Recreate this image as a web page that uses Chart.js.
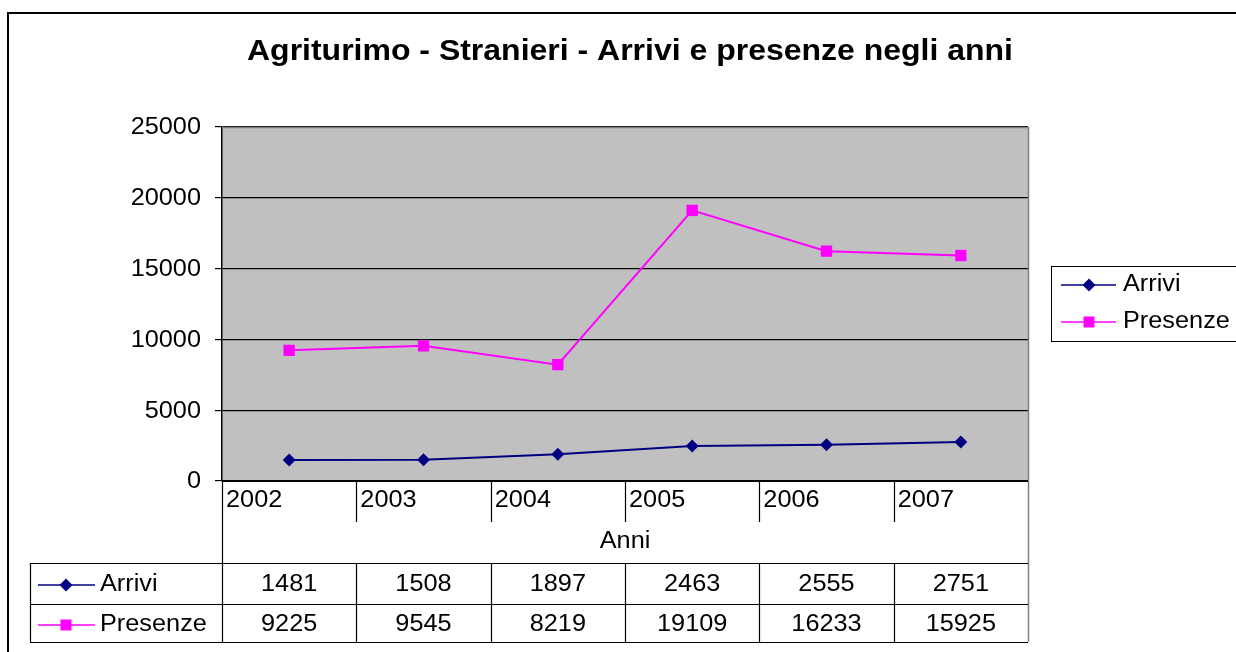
<!DOCTYPE html>
<html>
<head>
<meta charset="utf-8">
<script src="https://cdn.jsdelivr.net/npm/chart.js@4/dist/chart.umd.min.js"></script>
<style>
  html, body { margin: 0; padding: 0; background: #fff; }
  #wrap { width: 1236px; height: 652px; position: relative; }
</style>
</head>
<body>
<div id="wrap"><canvas id="c" width="1236" height="652"></canvas></div>
<script>
const chartTitle = "Agriturimo - Stranieri - Arrivi e presenze negli anni";
const xAxisTitle = "Anni";
const years = ["2002", "2003", "2004", "2005", "2006", "2007"];
const seriesNames = ["Arrivi", "Presenze"];
const arrivi = [1481, 1508, 1897, 2463, 2555, 2751];
const presenze = [9225, 9545, 8219, 19109, 16233, 15925];
const yTicks = [0, 5000, 10000, 15000, 20000, 25000];

const NAVY = "#000080";
const MAGENTA = "#FF00FF";
const FONT = "'Liberation Sans', Arial, sans-serif";

function drawMarker(ctx, type, x, y, color) {
  ctx.save();
  ctx.fillStyle = color;
  if (type === "rect") {
    ctx.fillRect(x - 5.5, y - 5.5, 11, 11);
  } else {
    ctx.beginPath();
    ctx.moveTo(x, y - 6.5);
    ctx.lineTo(x + 6.5, y);
    ctx.lineTo(x, y + 6.5);
    ctx.lineTo(x - 6.5, y);
    ctx.closePath();
    ctx.fill();
  }
  ctx.restore();
}

function stretchText(ctx, text, x, y, font, align, sx) {
  ctx.save();
  ctx.font = font;
  ctx.textBaseline = "middle";
  ctx.textAlign = align;
  ctx.translate(x, y);
  ctx.scale(sx, 1);
  ctx.fillText(text, 0, 0);
  ctx.restore();
}

function fitText(ctx, text, cx, y, font, width) {
  ctx.save();
  ctx.font = font;
  const w = ctx.measureText(text).width;
  ctx.restore();
  stretchText(ctx, text, cx, y, font, "center", width / w);
}

const SX = 1.1;
const F = "23px " + FONT;

const decor = {
  id: "decor",
  beforeDraw(chart) {
    const ctx = chart.ctx;
    const a = chart.chartArea;
    ctx.save();
    ctx.fillStyle = "#fff";
    ctx.fillRect(0, 0, chart.width, chart.height);
    ctx.fillStyle = "#C0C0C0";
    ctx.fillRect(a.left, a.top, a.right - a.left, a.bottom - a.top);
    ctx.restore();
  },
  afterDraw(chart) {
    const ctx = chart.ctx;
    const a = chart.chartArea;
    const xs = chart.scales.x;
    const ys = chart.scales.y;
    const n = years.length;
    const colW = (a.right - a.left) / n;
    const tableTop = 563, rowMid = 604, tableBottom = 642, tableLeft = 30;
    ctx.save();
    ctx.fillStyle = "#000";
    ctx.strokeStyle = "#000";

    // outer border
    ctx.lineWidth = 2;
    ctx.strokeRect(8, 13, 1400, 800);

    // title
    ctx.fillStyle = "#000";
    fitText(ctx, chartTitle, 630, 52, "bold 30px " + FONT, 766);

    // y tick labels
    yTicks.forEach(v => {
      stretchText(ctx, String(v), 201, ys.getPixelForValue(v) + 1, F, "right", SX);
    });

    // plot border (gray top/right)
    ctx.lineWidth = 1.5;
    ctx.strokeStyle = "#808080";
    ctx.beginPath();
    ctx.moveTo(a.left, a.top + 0.5);
    ctx.lineTo(a.right, a.top + 0.5);
    ctx.moveTo(a.right + 0.5, a.top);
    ctx.lineTo(a.right + 0.5, tableBottom);
    ctx.stroke();

    // x axis line
    ctx.strokeStyle = "#000";
    ctx.lineWidth = 2;
    ctx.beginPath();
    ctx.moveTo(a.left, a.bottom);
    ctx.lineTo(a.right, a.bottom);
    ctx.stroke();

    // table lines
    ctx.lineWidth = 1.2;
    ctx.beginPath();
    ctx.moveTo(a.left + 0.5, a.bottom);
    ctx.lineTo(a.left + 0.5, tableBottom);
    [tableTop, rowMid, tableBottom].forEach(y => {
      ctx.moveTo(tableLeft, y + 0.5);
      ctx.lineTo(a.right, y + 0.5);
    });
    ctx.moveTo(tableLeft + 0.5, tableTop);
    ctx.lineTo(tableLeft + 0.5, tableBottom);
    for (let i = 1; i < n; i++) {
      const x = Math.round(xs.getPixelForValue(i) - colW / 2) + 0.5;
      ctx.moveTo(x, a.bottom);
      ctx.lineTo(x, 522);
      ctx.moveTo(x, tableTop);
      ctx.lineTo(x, tableBottom);
    }
    ctx.stroke();

    // year labels
    ctx.fillStyle = "#000";
    for (let i = 0; i < n; i++) {
      const x0 = xs.getPixelForValue(i) - colW / 2;
      stretchText(ctx, years[i], x0 + 4, 501, F, "left", SX);
    }
    stretchText(ctx, xAxisTitle, (a.left + a.right) / 2, 542, F, "center", SX);

    // table values
    const rows = [arrivi, presenze];
    const rowY = [585, 625];
    for (let r = 0; r < 2; r++) {
      for (let i = 0; i < n; i++) {
        stretchText(ctx, String(rows[r][i]), xs.getPixelForValue(i), rowY[r], F, "center", SX);
      }
    }
    // table legend keys
    const ds = chart.data.datasets;
    for (let r = 0; r < 2; r++) {
      ctx.strokeStyle = ds[r].borderColor;
      ctx.lineWidth = 1.5;
      ctx.beginPath();
      ctx.moveTo(38, rowY[r]);
      ctx.lineTo(95, rowY[r]);
      ctx.stroke();
      drawMarker(ctx, ds[r].pointStyle, 66, rowY[r], ds[r].borderColor);
      ctx.fillStyle = "#000";
      stretchText(ctx, seriesNames[r], 100, rowY[r], F, "left", SX);
    }

    // legend box
    ctx.strokeStyle = "#000";
    ctx.lineWidth = 1;
    ctx.strokeRect(1051.5, 266.5, 300, 75);
    const legY = [285, 322];
    for (let r = 0; r < 2; r++) {
      ctx.strokeStyle = ds[r].borderColor;
      ctx.lineWidth = 1.5;
      ctx.beginPath();
      ctx.moveTo(1061, legY[r]);
      ctx.lineTo(1116, legY[r]);
      ctx.stroke();
      drawMarker(ctx, ds[r].pointStyle, 1089, legY[r], ds[r].borderColor);
      ctx.fillStyle = "#000";
      stretchText(ctx, seriesNames[r], 1123, legY[r], F, "left", SX);
    }
    ctx.restore();
  }
};

new Chart(document.getElementById("c"), {
  type: "line",
  data: {
    labels: years,
    datasets: [
      {
        label: seriesNames[0], data: arrivi,
        borderColor: NAVY, backgroundColor: NAVY, borderWidth: 2,
        pointStyle: "rectRot", pointRadius: 6.5, pointHoverRadius: 6.5,
        pointBackgroundColor: NAVY, pointBorderWidth: 0, tension: 0
      },
      {
        label: seriesNames[1], data: presenze,
        borderColor: MAGENTA, backgroundColor: MAGENTA, borderWidth: 2,
        pointStyle: "rect", pointRadius: 8, pointHoverRadius: 8,
        pointBackgroundColor: MAGENTA, pointBorderWidth: 0, tension: 0
      }
    ]
  },
  options: {
    responsive: false,
    animation: false,
    events: [],
    layout: { padding: { left: 0, top: 127, right: 1236 - 1028, bottom: 652 - 481 } },
    plugins: { legend: { display: false }, title: { display: false }, tooltip: { enabled: false } },
    scales: {
      x: { type: "category", offset: true, display: false },
      y: {
        min: 0, max: 25000,
        afterBuildTicks(scale) { scale.ticks = yTicks.map(v => ({ value: v })); },
        afterFit(scale) { scale.width = 222; },
        grid: { color: "#000", lineWidth: 1.2, tickLength: 7, tickColor: "#000", drawTicks: true },
        border: { display: true, color: "#000", width: 1.5 },
        ticks: { display: false }
      }
    }
  },
  plugins: [decor]
});
</script>
</body>
</html>
